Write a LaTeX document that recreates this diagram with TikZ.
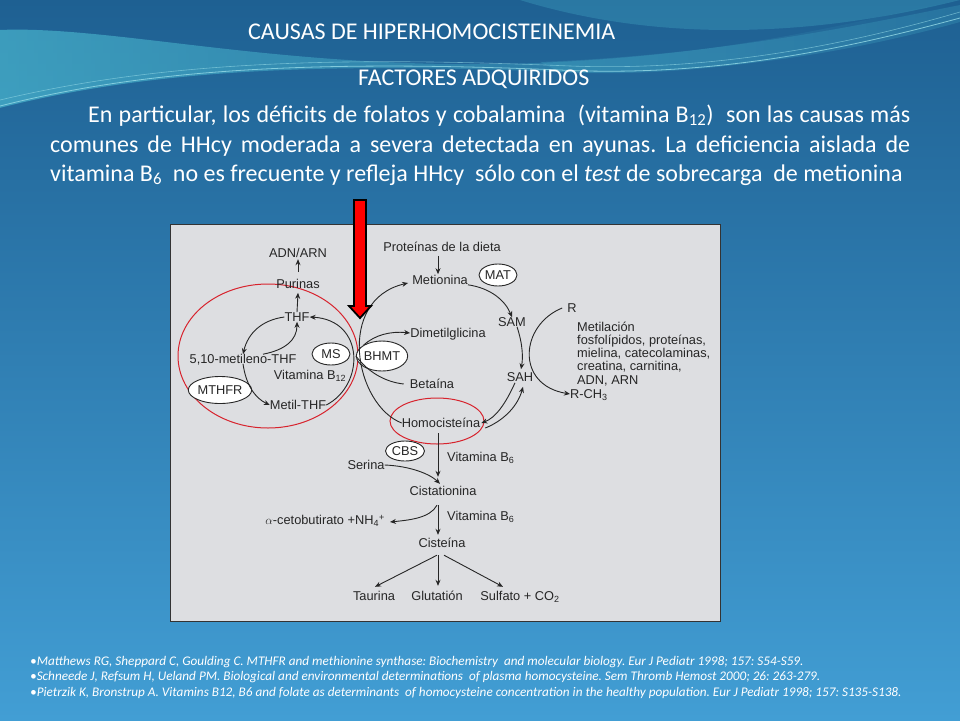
\documentclass[tikz,border=0pt]{standalone}
\usepackage{fontspec}
\setmainfont{Carlito}
\newfontfamily\libsans{Liberation Sans}
\usetikzlibrary{arrows.meta,shapes.geometric,fadings}
\definecolor{bgtop}{RGB}{30,96,146}
\definecolor{bgmid}{RGB}{36,110,164}
\definecolor{bgbot}{RGB}{66,158,212}
\definecolor{boxgray}{RGB}{221,222,225}
\definecolor{ink}{RGB}{38,38,38}
\definecolor{hred}{RGB}{215,35,45}
\definecolor{swoosh}{RGB}{80,195,215}
\begin{document}
\frenchspacing
\begin{tikzpicture}[x=1pt,y=-1pt,
  lbl/.style={font=\libsans\fontsize{12.8}{14}\selectfont, text=ink, inner sep=0pt, text height=9.2pt, text depth=0pt},
  mline/.style={font=\libsans\fontsize{12.8}{14}\selectfont, text=ink, inner sep=0pt, anchor=base west},
  enz/.style={ellipse, draw=ink, fill=white, line width=0.9pt, inner sep=0pt, font=\libsans\fontsize{12.8}{14}\selectfont, text=ink},
  arr/.style={draw=ink, line width=0.9pt, -{Stealth[length=6pt,width=5pt]}},
  ln/.style={draw=ink, line width=0.9pt},
  redring/.style={draw=hred, line width=1pt},
  ttl/.style={font=\fontsize{24}{28}\selectfont, text=white, inner sep=0pt, anchor=base west},
  body/.style={font=\fontsize{24}{29}\selectfont, text=white, inner sep=0pt, anchor=base west},
  refs/.style={font=\itshape\fontsize{13.2}{15}\selectfont, text=white, inner sep=0pt, anchor=base west}]

% background
\useasboundingbox (0,0) rectangle (960,720);
\shade[top color=bgtop, middle color=bgmid, bottom color=bgbot] (0,0) rectangle (960,720);
\fill[swoosh, opacity=0.6, path fading=east] (0,30) .. controls (120,25) and (300,75) .. (560,62) .. controls (760,52) and (880,15) .. (960,0) -- (960,20) .. controls (860,45) and (720,80) .. (560,72) .. controls (320,62) and (150,70) .. (0,108) -- cycle;
\fill[swoosh, opacity=0.25] (520,0) .. controls (650,40) and (800,40) .. (960,0) -- cycle;
\fill[swoosh, opacity=0.2] (540,62) .. controls (720,55) and (860,25) .. (960,5) -- (960,22) .. controls (860,50) and (720,76) .. (560,72) -- cycle;
\draw[swoosh!60!white, opacity=0.8, line width=0.8pt] (0,106) .. controls (150,68) and (320,60) .. (560,70) .. controls (720,78) and (860,45) .. (960,18);
\draw[swoosh!60!white, opacity=0.6, line width=0.6pt] (0,100) .. controls (160,62) and (330,56) .. (570,66) .. controls (730,72) and (870,38) .. (960,12);

% titles
\node[ttl] (t1) at (248,39) {CAUSAS DE HIPERHOMOCISTEINEMIA};
\node[ttl] (t2) at (358,85) {FACTORES ADQUIRIDOS};
\node[body] (p1) at (88,122) {\makebox[822pt][s]{En particular, los déficits de folatos y cobalamina\ \ (vitamina B\textsubscript{12})\ \ son las causas más}};
\node[body] (p2) at (50,152) {\makebox[860pt][s]{comunes de HHcy moderada a severa detectada en ayunas. La deficiencia aislada de}};
\node[body] (p3) at (50,181) {vitamina B\textsubscript{6}\ \ no es frecuente y refleja HHcy\ \ sólo con el \textit{test} de sobrecarga\ \ de metionina};

% diagram box
\filldraw[fill=boxgray, draw=black!80, line width=1pt] (170.5,224) rectangle (720,621);

% red ellipses
\draw[redring] (268,356) ellipse [x radius=90, y radius=72];
\draw[redring] (437,421) ellipse [x radius=47, y radius=23];

% nodes
\node[lbl] (adn) at (298,253) {ADN/ARN};
\node[lbl] (pur) at (298,284) {Purinas};
\node[lbl] (thf) at (297,317) {THF};
\node[lbl] (mthf) at (243,359) {5,10-metileno-THF};
\node[enz, minimum width=38pt, minimum height=22pt] (ms) at (331,354) {MS};
\node[lbl] (vb12) at (310,375) {Vitamina B\textsubscript{12}};
\node[enz, minimum width=63pt, minimum height=27pt] (mthfr) at (220,390) {MTHFR};
\node[lbl] (metthf) at (298,405) {Metil-THF};

\node[lbl] (prot) at (442,247) {Proteínas de la dieta};
\node[lbl] (met) at (440,280) {Metionina};
\node[enz, minimum width=38pt, minimum height=22pt] (mat) at (498,275) {MAT};
\node[lbl] (sam) at (512,322) {SAM};
\node[lbl] (sah) at (520,377) {SAH};
\node[lbl] (dmg) at (448,333) {Dimetilglicina};
\node[enz, minimum width=45pt, minimum height=30pt] (bhmt) at (382,356) {BHMT};
\node[lbl] (bet) at (432,384) {Betaína};
\node[lbl] (hcy) at (441,423) {Homocisteína};

\node[lbl] (R) at (572,308) {R};
\node[mline] (m1) at (577,331) {Metilación};
\node[mline] (m2) at (577,344.3) {fosfolípidos, proteínas,};
\node[mline] (m3) at (577,357.6) {mielina, catecolaminas,};
\node[mline] (m4) at (577,370.9) {creatina, carnitina,};
\node[mline] (m5) at (577,384.2) {ADN, ARN};
\node[lbl, anchor=west] (rch3) at (570,394) {R-CH\textsubscript{3}};

\node[enz, minimum width=39pt, minimum height=20pt] (cbs) at (405,451) {CBS};
\node[lbl] (ser) at (366,465) {Serina};
\node[lbl, anchor=west] (vb6a) at (447,457) {Vitamina B\textsubscript{6}};
\node[lbl] (cist) at (443,491) {Cistationina};
\node[lbl, anchor=east] (aceto) at (385,520) {$\alpha$-cetobutirato +NH\textsubscript{4}\textsuperscript{+}};
\node[lbl, anchor=west] (vb6b) at (447,516) {Vitamina B\textsubscript{6}};
\node[lbl] (cys) at (442,543) {Cisteína};
\node[lbl] (tau) at (374,596) {Taurina};
\node[lbl] (glu) at (437,596) {Glutatión};
\node[lbl] (sul) at (520,596) {Sulfato + CO\textsubscript{2}};

% folate cycle
\draw[arr] ([yshift=7pt]pur.north) -- ([yshift=-1.4pt]adn.south);
\draw[arr] (thf.north) -- ([yshift=-4pt]pur.south);
\draw[arr] (thf.west) .. controls (262,320) and (248,333) .. (mthf.north);
\draw[arr] ([xshift=20pt]mthf.north) .. controls (285,350) and (297,340) .. (thf.south);
\draw[arr] (mthf.south) .. controls (246,385) and (255,398) .. (metthf.west);
\draw[arr] (metthf.east) .. controls (365,385) and (365,320) .. (thf.east);

% methionine cycle
\draw[arr] (hcy.west) .. controls (355,405) and (335,300) .. ([xshift=-4pt,yshift=-3pt]met.west);
\draw[arr] (met.south east) .. controls (490,288) and (505,300) .. (sam.north);
\draw[arr] ([xshift=5pt]sam.south) .. controls (523,345) and (523,358) .. ([xshift=1pt,yshift=3pt]sah.north);
\draw[arr] ([xshift=-5pt,yshift=-1pt]sah.south) .. controls (505,405) and (495,418) .. ([xshift=1pt]hcy.east);
\draw[arr] ([xshift=5pt,yshift=-5pt]hcy.east) .. controls (505,420) and (518,405) .. ([xshift=3pt,yshift=-5pt]sah.south);
\draw[arr] (bhmt.north west) .. controls (375,335) and (390,331) .. (dmg.west);
\draw[ln] ([xshift=-6pt]bet.west) .. controls (385,382) and (368,372) .. (bhmt.west);
\draw[arr] ([xshift=-4pt,yshift=-4pt]prot.south) -- ([xshift=-2pt,yshift=1pt]met.north);
\draw[arr] ([xshift=-5pt]R.west) .. controls (520,325) and (515,385) .. (rch3.west);

% transsulfuration
\draw[arr] ([xshift=-3pt,yshift=-5.4pt]hcy.south) -- ([xshift=-5pt,yshift=9.4pt]cist.north);
\draw[arr] (ser.east) .. controls (410,466) and (430,474) .. ([xshift=-3pt,yshift=2.4pt]cist.north);
\draw[arr] ([xshift=-6pt,yshift=-9.4pt]cist.south) .. controls (430,518) and (410,520) .. ([xshift=5pt,yshift=-2pt]aceto.east);
\draw[arr] ([xshift=-5pt,yshift=-9.4pt]cist.south) -- ([xshift=-4pt,yshift=3.4pt]cys.north);
\draw[arr] ([xshift=-5pt,yshift=-7.4pt]cys.south) -- ([xshift=1pt,yshift=4.4pt]tau.north);
\draw[arr] ([xshift=-4pt,yshift=-7.4pt]cys.south) -- ([xshift=1pt,yshift=5.4pt]glu.north);
\draw[arr] ([xshift=2pt,yshift=-7.4pt]cys.south) -- ([xshift=-17pt,yshift=4.4pt]sul.north);

% big red arrow
\filldraw[fill=red, draw=black, line width=1.8pt, line join=miter] (354,200) -- (366,200) -- (366,306) -- (371,306) -- (360,318) -- (349,306) -- (354,306) -- cycle;

% references
\node[refs] (r1) at (30,665) {\textbullet Matthews RG, Sheppard C, Goulding C. MTHFR and methionine synthase: Biochemistry\ \ and molecular biology. Eur J Pediatr 1998; 157: S54-S59.};
\node[refs] (r2) at (30,680) {\textbullet Schneede J, Refsum H, Ueland PM. Biological and environmental determinations\ \ of plasma homocysteine. Sem Thromb Hemost 2000; 26: 263-279.};
\node[refs] (r3) at (30,696) {\textbullet Pietrzik K, Bronstrup A. Vitamins B12, B6 and folate as determinants\ \ of homocysteine concentration in the healthy population. Eur J Pediatr 1998; 157: S135-S138.};
\end{tikzpicture}
\end{document}
